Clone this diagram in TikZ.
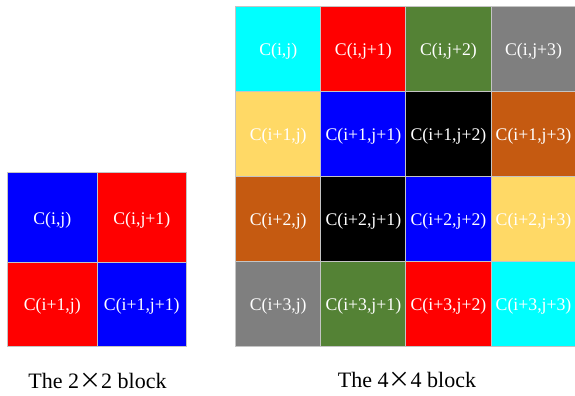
\documentclass[tikz,border=0pt]{standalone}
\usepackage{fontspec}
\setmainfont{Liberation Serif}
\newfontfamily\cjk{Noto Sans CJK SC}
\definecolor{cellborder}{HTML}{C4C4C4}
\definecolor{ccyan}{HTML}{00FFFF}
\definecolor{cred}{HTML}{FF0000}
\definecolor{cgreen}{HTML}{548235}
\definecolor{cgray}{HTML}{7F7F7F}
\definecolor{cyellow}{HTML}{FFD966}
\definecolor{cblue}{HTML}{0000FF}
\definecolor{cblack}{HTML}{000000}
\definecolor{cbrown}{HTML}{C55A11}
\begin{document}
\begin{tikzpicture}[x=0.75pt,y=-0.75pt,
  cellfill/.style={fill=#1, draw=cellborder, line width=0.75pt},
  lbl/.style={text=white, font=\fontsize{13.3}{15}\selectfont, anchor=base, inner sep=0pt},
  caption/.style={text=black, font=\fontsize{16.5}{18}\selectfont, anchor=base, inner sep=0pt}]
\useasboundingbox (0,0) rectangle (575,396);
\clip (0,0) rectangle (575,396);

% ---- 2x2 block ----
\path[cellfill=cblue]  (7.5,172.3)  rectangle (97,262.3);
\path[cellfill=cred]   (97,172.3)   rectangle (186.5,262.3);
\path[cellfill=cred]   (7.5,262.3)  rectangle (97,346);
\path[cellfill=cblue]  (97,262.3)   rectangle (186.5,346);
\node[lbl] (a00) at (52.3,224.3)  {C(i,j)};
\node[lbl] (a01) at (141.8,224.3) {C(i,j+1)};
\node[lbl] (a10) at (52.3,310.8)  {C(i+1,j)};
\node[lbl] (a11) at (141.8,310.8) {C(i+1,j+1)};
\node[caption] (cap2) at (97.5,388) {The 2{\cjk ×}2 block};

% ---- 4x4 block ----
\def\bx{235.7}\def\by{6}\def\bw{85.1}\def\bh{85.1}
\foreach \r/\c/\col/\txt in {
  0/0/ccyan/{C(i,j)},       0/1/cred/{C(i,j+1)},       0/2/cgreen/{C(i,j+2)},     0/3/cgray/{C(i,j+3)},
  1/0/cyellow/{C(i+1,j)},   1/1/cblue/{C(i+1,j+1)},    1/2/cblack/{C(i+1,j+2)},   1/3/cbrown/{C(i+1,j+3)},
  2/0/cbrown/{C(i+2,j)},    2/1/cblack/{C(i+2,j+1)},   2/2/cblue/{C(i+2,j+2)},    2/3/cyellow/{C(i+2,j+3)},
  3/0/cgray/{C(i+3,j)},     3/1/cgreen/{C(i+3,j+1)},   3/2/cred/{C(i+3,j+2)},     3/3/ccyan/{C(i+3,j+3)}}
{
  \path[cellfill=\col] ({\bx+\c*\bw},{\by+\r*\bh}) rectangle ({\bx+(\c+1)*\bw},{\by+(\r+1)*\bh});
  \node[lbl] (b\r\c) at ({\bx+(\c+0.5)*\bw},{\by+(\r+0.5)*\bh+7}) {\txt};
}
\node[caption] (cap4) at (407,387.5) {The 4{\cjk ×}4 block};
\end{tikzpicture}
\end{document}
